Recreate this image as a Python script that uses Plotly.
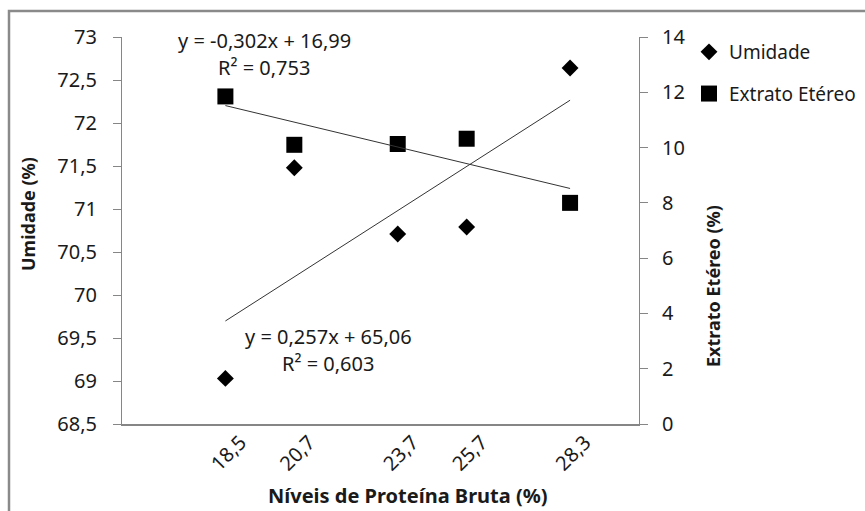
import numpy as np
import plotly.graph_objects as go

# ---- data ----
x_vals = [18.5, 20.5, 23.5, 25.5, 28.5]
x_labels = ["18,5", "20,7", "23,7", "25,7", "28,3"]
umidade = [69.03, 71.48, 70.71, 70.79, 72.64]
extrato = [11.85, 10.10, 10.13, 10.32, 8.00]
eq_umidade = ["y = 0,257x + 65,06", "R² = 0,603"]
eq_extrato = ["y = -0,302x + 16,99", "R² = 0,753"]

FONT = "Noto Sans"
TXT = "#1a1a1a"
AX = "#868686"

W, H = 865, 511
L, R, T, B = 122, 226, 37, 87
PW, PH = W - L - R, H - T - B

def px(xp):
    return (xp - L) / PW

def py(yp):
    return (H - B - yp) / PH

# trendlines from least squares fit
xa = np.array(x_vals)
xline = np.array([xa.min(), xa.max()])
cu = np.polyfit(xa, umidade, 1)
ce = np.polyfit(xa, extrato, 1)

fig = go.Figure()
fig.add_trace(go.Scatter(
    x=x_vals, y=umidade, mode="markers", name="Umidade",
    marker=dict(symbol="diamond", size=13, color="black"),
    legendgroup="a", yaxis="y"))
fig.add_trace(go.Scatter(
    x=x_vals, y=extrato, mode="markers", name="Extrato Etéreo",
    marker=dict(symbol="square", size=16, color="black"),
    legendgroup="b", yaxis="y2"))
fig.add_trace(go.Scatter(
    x=xline, y=np.polyval(cu, xline), mode="lines", showlegend=False,
    line=dict(color="#333333", width=1), yaxis="y", hoverinfo="skip"))
fig.add_trace(go.Scatter(
    x=xline, y=np.polyval(ce, xline), mode="lines", showlegend=False,
    line=dict(color="#333333", width=1), yaxis="y2", hoverinfo="skip"))

def note(xp, yp, text, size=20, angle=0):
    return dict(x=px(xp), y=py(yp), xref="paper", yref="paper", text=text,
                showarrow=False, xanchor="center", yanchor="middle",
                textangle=angle, font=dict(size=size, color=TXT, family=FONT))

ann = []
for i, t in enumerate(eq_extrato):
    ann.append(note(264, 40 + 27 * i, t))
for i, t in enumerate(eq_umidade):
    ann.append(note(328, 336 + 27 * i, t))
ann.append(note(408, 495, "<b>Níveis de Proteína Bruta (%)</b>", 20))
ann.append(note(28, 214, "<b>Umidade (%)</b>", 18, -90))
ann.append(note(713, 286, "<b>Extrato Etéreo (%)</b>", 18, -90))

fig.update_layout(
    width=W, height=H,
    margin=dict(l=L, r=R, t=T, b=B, autoexpand=False),
    paper_bgcolor="white", plot_bgcolor="white",
    separators=",.",
    font=dict(family=FONT, size=20, color=TXT),
    showlegend=True,
    legend=dict(x=689 / W, y=1 - 33 / H, xref="container", yref="container",
                xanchor="left", yanchor="top",
                font=dict(size=19, color=TXT, family=FONT),
                tracegroupgap=14, traceorder="grouped",
                bgcolor="rgba(0,0,0,0)", itemwidth=30, borderwidth=0),
    xaxis=dict(range=[15.5, 30.5], tickmode="array", tickvals=x_vals, ticktext=x_labels,
               tickangle=-45, showgrid=False, zeroline=False, showline=True,
               linecolor=AX, linewidth=1.5, ticks="", ticklabelshift=15,
               ticklabelstandoff=-3,
               tickfont=dict(size=20, color=TXT, family=FONT)),
    yaxis=dict(range=[68.5, 73], dtick=0.5, tick0=68.5, showgrid=False, zeroline=False,
               showline=True, linecolor=AX, linewidth=1, ticks="outside", ticklen=8,
               tickcolor=AX, ticklabelstandoff=12,
               tickfont=dict(size=20, color=TXT, family=FONT)),
    yaxis2=dict(range=[0, 14], dtick=2, overlaying="y", side="right", showgrid=False,
                zeroline=False, showline=True, linecolor=AX, linewidth=1,
                ticks="outside", ticklen=8, tickcolor=AX, ticklabelstandoff=10,
                tickfont=dict(size=20, color=TXT, family=FONT)),
    annotations=ann,
    shapes=[dict(type="rect", xref="paper", yref="paper",
                 x0=px(9), x1=px(900), y0=py(560), y1=py(11),
                 line=dict(color="#8a8a8a", width=2.5), fillcolor="rgba(0,0,0,0)",
                 layer="below")],
)

fig.write_html("out.html")
